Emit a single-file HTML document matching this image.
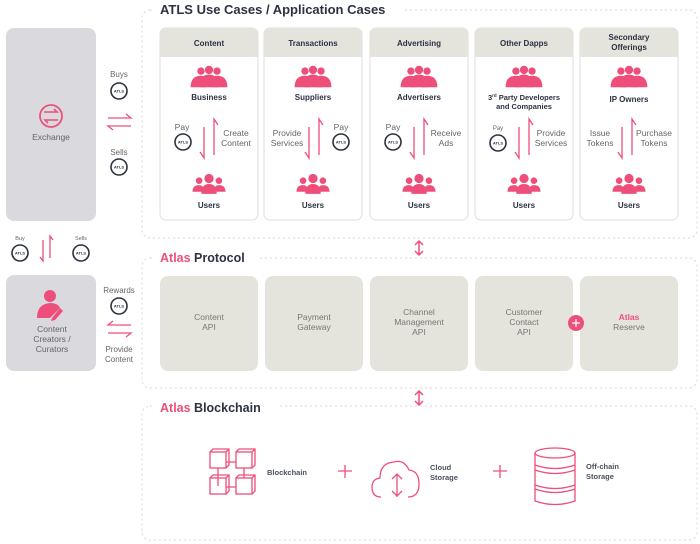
<!DOCTYPE html>
<html><head><meta charset="utf-8"><style>
html,body{margin:0;padding:0;background:#fff;}
svg{display:block;font-family:"Liberation Sans",sans-serif;}
</style></head><body>
<svg width="700" height="544" viewBox="0 0 700 544" xmlns="http://www.w3.org/2000/svg">
<defs>
<g id="biz" fill="#ee4f7a" transform="scale(1.15)">
<circle cx="-7" cy="-6" r="3.2"/><circle cx="7" cy="-6" r="3.2"/><circle cx="0" cy="-7" r="3.6"/>
<path d="M-16 8 Q-16 -2 -7 -2 Q-2 -2 -2 3 L-2 8Z"/>
<path d="M16 8 Q16 -2 7 -2 Q2 -2 2 3 L2 8Z"/>
<path d="M-8 8 Q-8 -3 0 -3 Q8 -3 8 8Z"/>
</g>
<g id="usr" fill="#ee4f7a" transform="scale(1.1)">
<circle cx="-9" cy="-3" r="3"/><circle cx="9" cy="-3" r="3"/><circle cx="0" cy="-5" r="4.2"/>
<path d="M-15 7 Q-15 1 -9 1 Q-5 1 -5 5 L-5 7Z"/>
<path d="M15 7 Q15 1 9 1 Q5 1 5 5 L5 7Z"/>
<path d="M-7 9 Q-7 0 0 0 Q7 0 7 9Z"/>
</g>
<g id="coin"><circle r="8" fill="#fff" stroke="#2d3142" stroke-width="1.6"/><text y="1.5" font-size="4" font-weight="bold" text-anchor="middle" fill="#2d3142">ATLS</text></g>
<g id="arr" fill="none" stroke="#ee4f7a" stroke-width="1.3">
<path d="M-5 -7 L-5 24 L-9 18"/><path d="M5 21 L5 -15 L9 -9"/>
</g>
<g id="dbl" fill="none" stroke="#ee4f7a" stroke-width="1.5">
<path d="M0 -7 L0 7 M-4 -3 L0 -7 L4 -3 M-4 3 L0 7 L4 3"/>
</g>
</defs>

<g fill="none" stroke="#d8d8d8" stroke-dasharray="2,3" stroke-width="1">
<rect x="142" y="10" width="555" height="228" rx="8"/>
<rect x="142" y="258" width="555" height="130" rx="8"/>
<rect x="142" y="406" width="555" height="134" rx="8"/>
</g>
<rect x="155" y="0" width="250" height="18" fill="#fff"/>
<text x="160" y="14" font-size="13" font-weight="bold" fill="#2d3142">ATLS Use Cases / Application Cases</text>
<rect x="155" y="250" width="105" height="16" fill="#fff"/>
<text x="160" y="262" font-size="12.5" font-weight="bold" fill="#2d3142"><tspan fill="#ee4f7a">Atlas</tspan> Protocol</text>
<rect x="155" y="398" width="125" height="16" fill="#fff"/>
<text x="160" y="412" font-size="12.5" font-weight="bold" fill="#2d3142"><tspan fill="#ee4f7a">Atlas</tspan> Blockchain</text>

<rect x="6" y="28" width="90" height="193" rx="8" fill="#d9d9de"/>
<circle cx="51" cy="116" r="11" fill="none" stroke="#ee4f7a" stroke-width="1.8"/>
<path d="M44 112 L57 112 L54 109 M58 120 L45 120 L48 123" fill="none" stroke="#ee4f7a" stroke-width="1.6"/>
<text x="51" y="140" font-size="8.5" fill="#666" text-anchor="middle">Exchange</text>

<rect x="6" y="275" width="90" height="96" rx="8" fill="#d9d9de"/>
<circle cx="50" cy="296" r="6" fill="#ee4f7a"/>
<path d="M37 318 Q37 304 50 303 Q58 303 60 308 L50 318Z" fill="#ee4f7a"/>
<path d="M52 318 L60 308 L63 311 L55 320 L51 321Z" fill="#ee4f7a"/>
<text x="52" y="332" font-size="8.5" fill="#666" text-anchor="middle">Content</text>
<text x="52" y="342" font-size="8.5" fill="#666" text-anchor="middle">Creators /</text>
<text x="52" y="352" font-size="8.5" fill="#666" text-anchor="middle">Curators</text>

<text x="119" y="77" font-size="8" fill="#666" text-anchor="middle">Buys</text>
<use href="#coin" x="119" y="91"/>
<path d="M108 118 L131 118 L126 114 M131 126 L108 126 L113 130" fill="none" stroke="#ee4f7a" stroke-width="1.3"/>
<text x="119" y="155" font-size="8" fill="#666" text-anchor="middle">Sells</text>
<use href="#coin" x="119" y="167"/>

<text x="20" y="240" font-size="5.5" fill="#666" text-anchor="middle">Buy</text>
<use href="#coin" x="20" y="253"/>
<text x="81" y="240" font-size="5.5" fill="#666" text-anchor="middle">Sells</text>
<use href="#coin" x="81" y="253"/>
<path d="M43 240 L43 261 L40 257 M50 258 L50 236 L53 240" fill="none" stroke="#ee4f7a" stroke-width="1.3"/>

<text x="119" y="293" font-size="8" fill="#666" text-anchor="middle">Rewards</text>
<use href="#coin" x="119" y="306"/>
<path d="M131 325 L108 325 L113 321 M108 333 L131 333 L126 337" fill="none" stroke="#ee4f7a" stroke-width="1.3"/>
<text x="119" y="352" font-size="8" fill="#666" text-anchor="middle">Provide</text>
<text x="119" y="362" font-size="8" fill="#666" text-anchor="middle">Content</text>

<g font-size="8" text-anchor="middle">
<g>
<rect x="160" y="28" width="98" height="192" rx="6" fill="#fff" stroke="#ddd"/>
<path d="M160 57 L160 34 Q160 28 166 28 L252 28 Q258 28 258 34 L258 57Z" fill="#e4e4dc"/>
<text x="209" y="46" font-weight="bold" fill="#2d3142">Content</text>
<use href="#biz" x="209" y="78"/><text x="209" y="100" font-weight="bold" fill="#2d3142">Business</text>
<use href="#arr" x="209" y="134"/>
<text x="182" y="130" fill="#666" font-size="8.5">Pay</text><use href="#coin" x="183" y="142"/>
<text x="236" y="136" fill="#666" font-size="8.5">Create</text><text x="236" y="146" fill="#666" font-size="8.5">Content</text>
<use href="#usr" x="209" y="184"/><text x="209" y="208" font-weight="bold" fill="#2d3142">Users</text>
</g>
<g>
<rect x="264" y="28" width="98" height="192" rx="6" fill="#fff" stroke="#ddd"/>
<path d="M264 57 L264 34 Q264 28 270 28 L356 28 Q362 28 362 34 L362 57Z" fill="#e4e4dc"/>
<text x="313" y="46" font-weight="bold" fill="#2d3142">Transactions</text>
<use href="#biz" x="313" y="78"/><text x="313" y="100" font-weight="bold" fill="#2d3142">Suppliers</text>
<use href="#arr" x="314" y="134"/>
<text x="287" y="136" fill="#666" font-size="8.5">Provide</text><text x="287" y="146" fill="#666" font-size="8.5">Services</text>
<text x="341" y="130" fill="#666" font-size="8.5">Pay</text><use href="#coin" x="341" y="142"/>
<use href="#usr" x="313" y="184"/><text x="313" y="208" font-weight="bold" fill="#2d3142">Users</text>
</g>
<g>
<rect x="370" y="28" width="98" height="192" rx="6" fill="#fff" stroke="#ddd"/>
<path d="M370 57 L370 34 Q370 28 376 28 L462 28 Q468 28 468 34 L468 57Z" fill="#e4e4dc"/>
<text x="419" y="46" font-weight="bold" fill="#2d3142">Advertising</text>
<use href="#biz" x="419" y="78"/><text x="419" y="100" font-weight="bold" fill="#2d3142">Advertisers</text>
<use href="#arr" x="419" y="134"/>
<text x="393" y="130" fill="#666" font-size="8.5">Pay</text><use href="#coin" x="393" y="142"/>
<text x="446" y="136" fill="#666" font-size="8.5">Receive</text><text x="446" y="146" fill="#666" font-size="8.5">Ads</text>
<use href="#usr" x="419" y="184"/><text x="419" y="208" font-weight="bold" fill="#2d3142">Users</text>
</g>
<g>
<rect x="475" y="28" width="98" height="192" rx="6" fill="#fff" stroke="#ddd"/>
<path d="M475 57 L475 34 Q475 28 481 28 L567 28 Q573 28 573 34 L573 57Z" fill="#e4e4dc"/>
<text x="524" y="46" font-weight="bold" fill="#2d3142">Other Dapps</text>
<use href="#biz" x="524" y="78"/>
<text x="524" y="100" font-weight="bold" fill="#2d3142" font-size="7.5">3<tspan font-size="4.5" dy="-3">rd</tspan><tspan dy="3"> Party Developers</tspan></text>
<text x="524" y="109" font-weight="bold" fill="#2d3142" font-size="7.5">and Companies</text>
<use href="#arr" x="524" y="134"/>
<text x="498" y="130" fill="#666" font-size="6">Pay</text><use href="#coin" x="498" y="143"/>
<text x="551" y="136" fill="#666" font-size="8.5">Provide</text><text x="551" y="146" fill="#666" font-size="8.5">Services</text>
<use href="#usr" x="524" y="184"/><text x="524" y="208" font-weight="bold" fill="#2d3142">Users</text>
</g>
<g>
<rect x="580" y="28" width="98" height="192" rx="6" fill="#fff" stroke="#ddd"/>
<path d="M580 57 L580 34 Q580 28 586 28 L672 28 Q678 28 678 34 L678 57Z" fill="#e4e4dc"/>
<text x="629" y="40" font-weight="bold" fill="#2d3142">Secondary</text>
<text x="629" y="50" font-weight="bold" fill="#2d3142">Offerings</text>
<use href="#biz" x="629" y="78"/><text x="629" y="102" font-weight="bold" fill="#2d3142">IP Owners</text>
<use href="#arr" x="627" y="134"/>
<text x="600" y="136" fill="#666" font-size="8.5">Issue</text><text x="600" y="146" fill="#666" font-size="8.5">Tokens</text>
<text x="654" y="136" fill="#666" font-size="8.5">Purchase</text><text x="654" y="146" fill="#666" font-size="8.5">Tokens</text>
<use href="#usr" x="629" y="184"/><text x="629" y="208" font-weight="bold" fill="#2d3142">Users</text>
</g>
</g>

<use href="#dbl" x="419" y="248"/>
<use href="#dbl" x="419" y="398"/>

<g fill="#e4e4dc">
<rect x="160" y="276" width="98" height="95" rx="8"/>
<rect x="265" y="276" width="98" height="95" rx="8"/>
<rect x="370" y="276" width="98" height="95" rx="8"/>
<rect x="475" y="276" width="98" height="95" rx="8"/>
<rect x="580" y="276" width="98" height="95" rx="8"/>
</g>
<g font-size="8.5" fill="#777" text-anchor="middle">
<text x="209" y="320">Content</text><text x="209" y="330">API</text>
<text x="314" y="320">Payment</text><text x="314" y="330">Gateway</text>
<text x="419" y="315">Channel</text><text x="419" y="325">Management</text><text x="419" y="335">API</text>
<text x="524" y="315">Customer</text><text x="524" y="325">Contact</text><text x="524" y="335">API</text>
<text x="629" y="320" fill="#ee4f7a" font-weight="bold">Atlas</text><text x="629" y="330">Reserve</text>
</g>
<circle cx="576" cy="323" r="8" fill="#ee4f7a"/>
<path d="M572 323 L580 323 M576 319 L576 327" stroke="#fff" stroke-width="1.3"/>

<g fill="none" stroke="#ee4f7a" stroke-width="1.3">
<rect x="210" y="452" width="16" height="16"/><path d="M210 452 L213 449 L229 449 L229 465 L226 468 M226 452 L229 449"/>
<rect x="236" y="452" width="16" height="16"/><path d="M236 452 L239 449 L255 449 L255 465 L252 468 M252 452 L255 449"/>
<rect x="210" y="478" width="16" height="16"/><path d="M210 478 L213 475 L229 475 L229 491 L226 494 M226 478 L229 475"/>
<rect x="236" y="478" width="16" height="16"/><path d="M236 478 L239 475 L255 475 L255 491 L252 494 M252 478 L255 475"/>
<path d="M226 462 L236 462 M244 468 L244 478 M218 468 L218 486 M226 487 L236 487"/>
<path d="M345 465 L345 478 M338 471 L352 471"/>
<path d="M381 497 Q372 497 372 487 Q372 479 380 478 Q380 463 394 462 Q404 459 409 470 Q419 471 419 484 Q419 497 408 497"/>
<path d="M397 474 L397 497 M392 479 L397 474 L402 479 M392 491 L397 496 L402 491"/>
<path d="M500 465 L500 478 M493 471 L507 471"/>
<ellipse cx="555" cy="453" rx="20" ry="5"/>
<path d="M535 453 L535 501 Q555 508 575 501 L575 453 M535 465 Q555 472 575 465 M535 470 Q555 477 575 470 M535 485 Q555 492 575 485 M535 489 Q555 496 575 489"/>
</g>
<g font-size="7.5" font-weight="bold" fill="#4a5060">
<text x="267" y="475">Blockchain</text>
<text x="430" y="470">Cloud</text><text x="430" y="480">Storage</text>
<text x="586" y="469">Off-chain</text><text x="586" y="479">Storage</text>
</g>
</svg>
</body></html>
